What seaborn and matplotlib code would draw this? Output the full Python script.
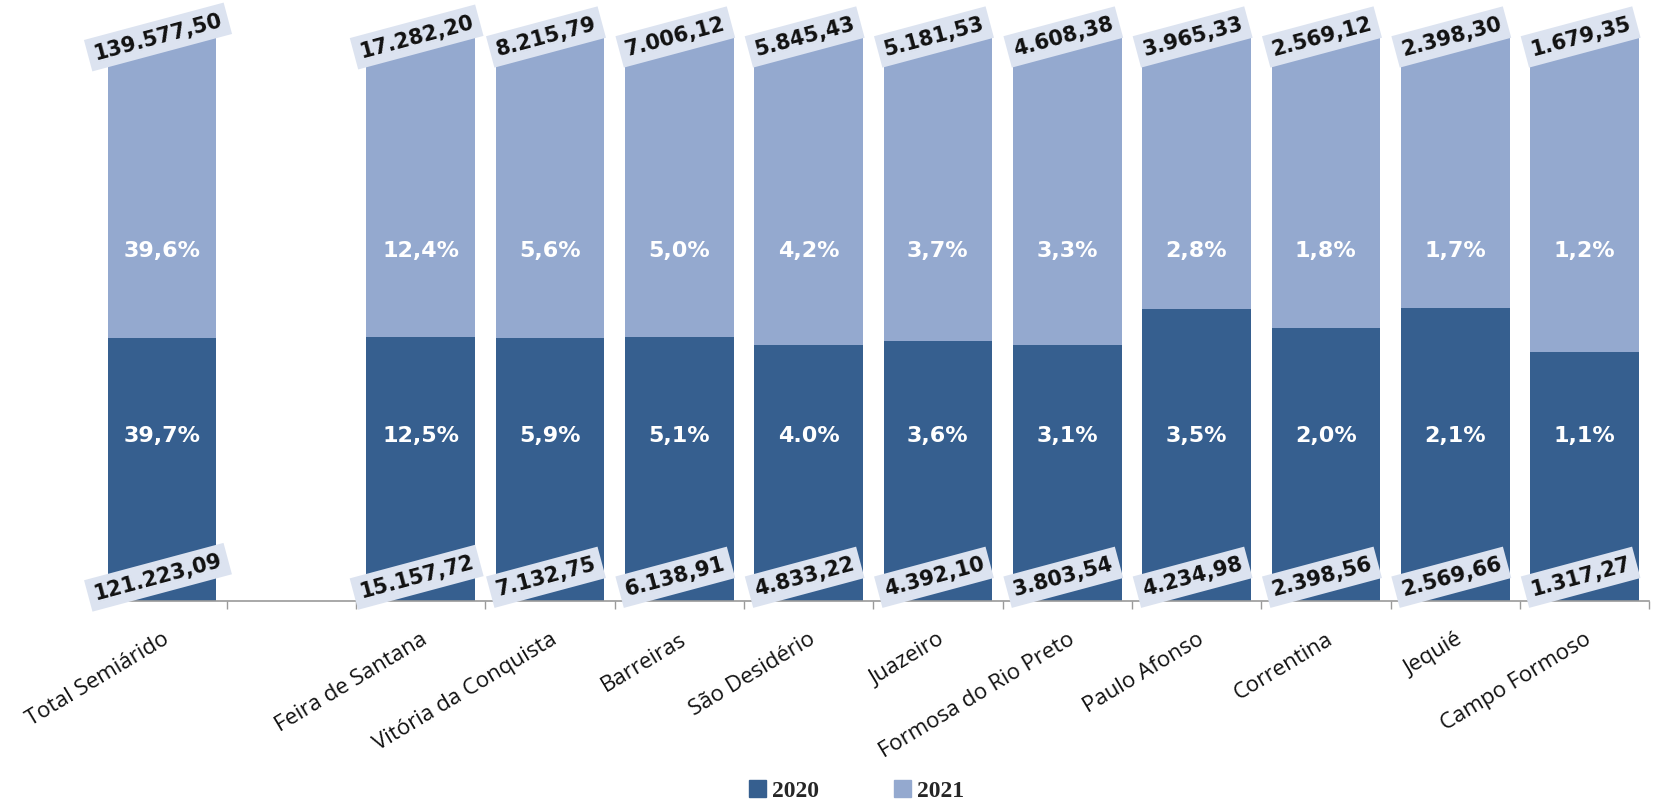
import numpy as np
import pandas as pd
import matplotlib
matplotlib.use("Agg")
import matplotlib.pyplot as plt
import seaborn as sns
from matplotlib.patches import Patch

categories = ["Total Semiárido", "Feira de Santana", "Vitória da Conquista", "Barreiras",
              "São Desidério", "Juazeiro", "Formosa do Rio Preto", "Paulo Afonso",
              "Correntina", "Jequié", "Campo Formoso"]
values_2020 = [121223.09, 15157.72, 7132.75, 6138.91, 4833.22, 4392.10, 3803.54,
               4234.98, 2398.56, 2569.66, 1317.27]
values_2021 = [139577.50, 17282.20, 8215.79, 7006.12, 5845.43, 5181.53, 4608.38,
               3965.33, 2569.12, 2398.30, 1679.35]
labels_2020 = ["121.223,09", "15.157,72", "7.132,75", "6.138,91", "4.833,22", "4.392,10",
               "3.803,54", "4.234,98", "2.398,56", "2.569,66", "1.317,27"]
labels_2021 = ["139.577,50", "17.282,20", "8.215,79", "7.006,12", "5.845,43", "5.181,53",
               "4.608,38", "3.965,33", "2.569,12", "2.398,30", "1.679,35"]
pct_2020 = ["39,7%", "12,5%", "5,9%", "5,1%", "4.0%", "3,6%", "3,1%", "3,5%", "2,0%", "2,1%", "1,1%"]
pct_2021 = ["39,6%", "12,4%", "5,6%", "5,0%", "4,2%", "3,7%", "3,3%", "2,8%", "1,8%", "1,7%", "1,2%"]

order = [categories[0], " "] + categories[1:]

DARK = "#365F8F"
LIGHT = "#94A9CF"
BOX = "#DCE3F0"

sns.set_theme(style="white")
plt.rcParams["font.family"] = ["DejaVu Sans"]

df = pd.DataFrame({"cat": categories, "v20": values_2020, "v21": values_2021})
df["total"] = 1.0
df["share20"] = df["v20"] / (df["v20"] + df["v21"])

fig = plt.figure(figsize=(16.76, 8.02), dpi=100)
ax = fig.add_axes([0.058, 0.2506, 0.926, 0.7054])

sns.barplot(data=df, x="cat", y="total", order=order, color=LIGHT, width=0.84,
            saturation=1, ax=ax, errorbar=None, linewidth=0)
sns.barplot(data=df, x="cat", y="share20", order=order, color=DARK, width=0.84,
            saturation=1, ax=ax, errorbar=None, linewidth=0)

ax.set_xlim(-0.5, len(order) - 0.5)
ax.set_ylim(0, 1)
ax.set_xlabel("")
ax.set_ylabel("")
ax.set_yticks([])
for s in ["left", "right", "top"]:
    ax.spines[s].set_visible(False)
ax.spines["bottom"].set_color("#9A9A9A")
ax.spines["bottom"].set_linewidth(1.2)

ax.set_xticks(np.arange(-0.5, len(order), 1.0), minor=True)
ax.tick_params(axis="x", which="minor", length=6, color="#9A9A9A", width=1, bottom=True)
ax.tick_params(axis="x", which="major", length=0, pad=20)
ax.set_xticks(range(len(order)))
ax.set_xticklabels(order, rotation=31, ha="right", rotation_mode="anchor",
                   fontsize=16, family="Open Sans", color="#111111")

trans = ax.get_xaxis_transform()
for i, cat in enumerate(categories):
    x = order.index(cat)
    ax.text(x, 0.618, pct_2021[i], ha="center", va="center", color="white",
            fontsize=16, fontweight="bold", transform=trans)
    ax.text(x, 0.291, pct_2020[i], ha="center", va="center", color="white",
            fontsize=16, fontweight="bold", transform=trans)
    ax.text(x - 0.03, 0.997, labels_2021[i], ha="center", va="center", rotation=15,
            fontsize=15, fontweight="bold", color="#111111", transform=trans,
            clip_on=False, bbox=dict(boxstyle="square,pad=0.3", fc=BOX, ec="none"))
    ax.text(x - 0.03, 0.042, labels_2020[i], ha="center", va="center", rotation=15,
            fontsize=15, fontweight="bold", color="#111111", transform=trans,
            clip_on=False, bbox=dict(boxstyle="square,pad=0.3", fc=BOX, ec="none"))

handles = [Patch(color=DARK, label="2020"), Patch(color=LIGHT, label="2021")]
fig.legend(handles=handles, loc="center", bbox_to_anchor=(0.511, 0.014), ncol=2,
           frameon=False, prop={"family": "Liberation Serif", "size": 17, "weight": "bold"},
           handlelength=0.7, handleheight=0.7, handletextpad=0.25, columnspacing=3.2,
           borderpad=0)

fig.savefig("out.png", dpi=100)
